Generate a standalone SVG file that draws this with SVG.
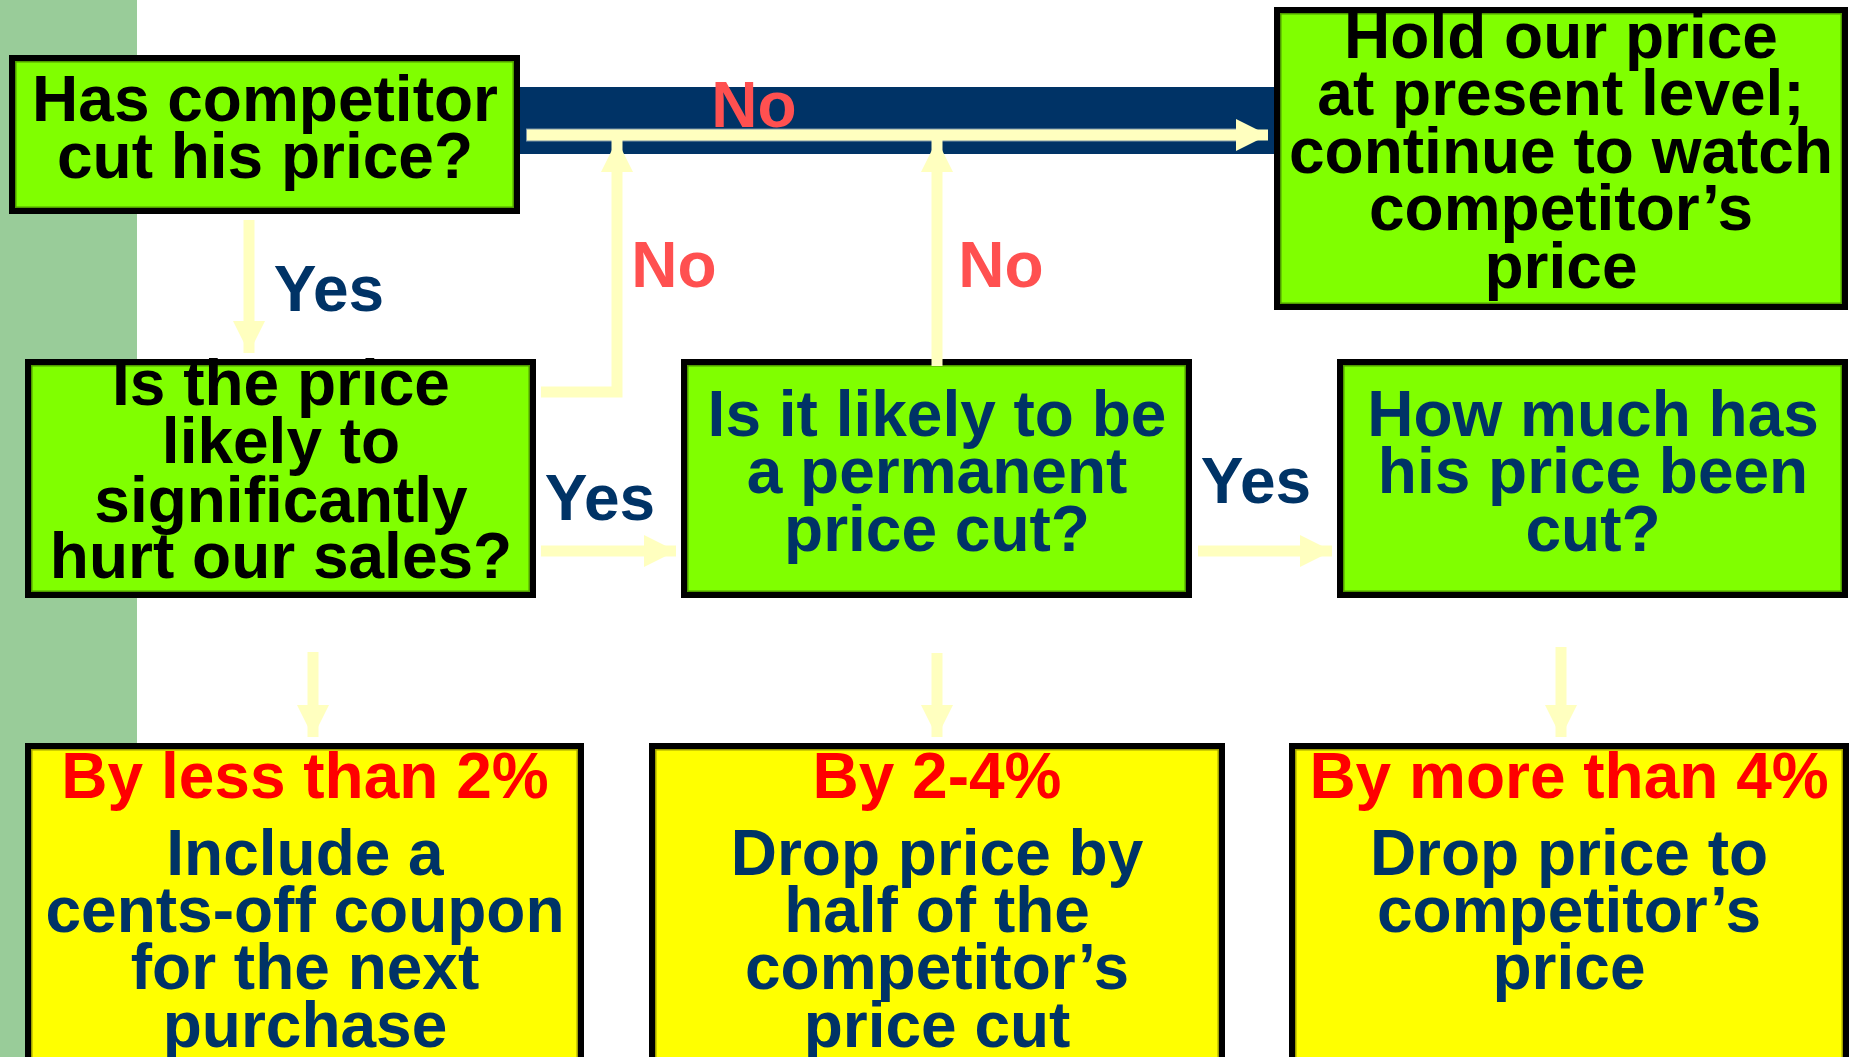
<svg xmlns="http://www.w3.org/2000/svg" width="1850" height="1057" viewBox="0 0 1850 1057">
<style>
  .box { stroke: #000000; stroke-width: 6; }
  .green { fill: #80FF00; }
  .yellow { fill: #FFFF00; }
  .inG { fill: none; stroke: #4F9A00; stroke-width: 1.5; }
  .inY { fill: none; stroke: #A0A000; stroke-width: 1.5; }
  text { font-family: "Liberation Sans", Arial, sans-serif; font-weight: bold; font-size: 64px; text-anchor: middle; }
  .blk { fill: #000000; }
  .navy { fill: #003366; }
  .red { fill: #FF0000; }
  .no { fill: #FF5050; }
  .conn { fill: none; stroke: #FFFFBF; stroke-width: 11; stroke-linejoin: miter; }
  .edge { fill: none; stroke: #7F97A8; stroke-width: 13; }
</style>
<defs>
  <marker id="ah" markerUnits="userSpaceOnUse" markerWidth="32" markerHeight="32" viewBox="0 0 32 32" refX="32" refY="16" orient="auto">
    <path d="M0,0 L32,16 L0,32 z" fill="#FFFFBF"/>
  </marker>
</defs>
<rect x="0" y="0" width="1850" height="1057" fill="#FFFFFF"/>
<rect id="band" x="0" y="0" width="137" height="1057" fill="#99CC99"/>
<rect id="bar" x="520" y="87" width="756" height="67" fill="#003366"/>

<g id="n1">
  <rect class="box green" x="12" y="58" width="505" height="153"/>
  <rect class="inG" x="15.75" y="61.75" width="497.5" height="145.5"/>
  <text class="blk" x="265" y="121">Has competitor</text>
  <text class="blk" x="265" y="178">cut his price?</text>
</g>
<g id="hold">
  <rect class="box green" x="1277" y="10" width="568" height="297"/>
  <rect class="inG" x="1280.75" y="13.75" width="560.5" height="289.5"/>
  <text class="blk" x="1561" y="58">Hold our price</text>
  <text class="blk" x="1561" y="115">at present level;</text>
  <text class="blk" x="1561" y="173">continue to watch</text>
  <text class="blk" x="1561" y="230">competitor’s</text>
  <text class="blk" x="1561" y="288">price</text>
</g>
<g id="n2">
  <rect class="box green" x="28" y="362" width="505" height="233"/>
  <rect class="inG" x="31.75" y="365.75" width="497.5" height="225.5"/>
  <text class="blk" x="281" y="405">Is the price</text>
  <text class="blk" x="281" y="463">likely to</text>
  <text class="blk" x="281" y="522">significantly</text>
  <text class="blk" x="281" y="578">hurt our sales?</text>
</g>
<g id="n3">
  <rect class="box green" x="684" y="362" width="505" height="233"/>
  <rect class="inG" x="687.75" y="365.75" width="497.5" height="225.5"/>
  <text class="navy" x="937" y="436">Is it likely to be</text>
  <text class="navy" x="937" y="493">a permanent</text>
  <text class="navy" x="937" y="551">price cut?</text>
</g>
<g id="n4">
  <rect class="box green" x="1340" y="362" width="505" height="233"/>
  <rect class="inG" x="1343.75" y="365.75" width="497.5" height="225.5"/>
  <text class="navy" x="1593" y="436">How much has</text>
  <text class="navy" x="1593" y="493">his price been</text>
  <text class="navy" x="1593" y="551">cut?</text>
</g>
<g id="n5">
  <rect class="box yellow" x="28" y="746" width="553" height="400"/>
  <rect class="inY" x="31.75" y="749.75" width="545.5" height="392.5"/>
  <text class="red" x="305" y="798">By less than 2%</text>
  <text class="navy" x="305" y="875">Include a</text>
  <text class="navy" x="305" y="932">cents-off coupon</text>
  <text class="navy" x="305" y="989">for the next</text>
  <text class="navy" x="305" y="1047">purchase</text>
</g>
<g id="n6">
  <rect class="box yellow" x="652" y="746" width="570" height="400"/>
  <rect class="inY" x="655.75" y="749.75" width="562.5" height="392.5"/>
  <text class="red" x="937" y="798">By 2-4%</text>
  <text class="navy" x="937" y="875">Drop price by</text>
  <text class="navy" x="937" y="932">half of the</text>
  <text class="navy" x="937" y="989">competitor’s</text>
  <text class="navy" x="937" y="1047">price cut</text>
</g>
<g id="n7">
  <rect class="box yellow" x="1292" y="746" width="554" height="400"/>
  <rect class="inY" x="1295.75" y="749.75" width="546.5" height="392.5"/>
  <text class="red" x="1569" y="798">By more than 4%</text>
  <text class="navy" x="1569" y="875">Drop price to</text>
  <text class="navy" x="1569" y="932">competitor’s</text>
  <text class="navy" x="1569" y="989">price</text>
</g>

<g id="connectors">
  <path class="edge" d="M526,135 H1238"/>
  <path class="conn" d="M527,135 H1268" marker-end="url(#ah)"/>
  <path class="conn" d="M541,392 H617 V140" marker-end="url(#ah)"/>
  <path class="conn" d="M937,366 V140" marker-end="url(#ah)"/>
  <path class="conn" d="M249,220 V353" marker-end="url(#ah)"/>
  <path class="conn" d="M541,551 H676" marker-end="url(#ah)"/>
  <path class="conn" d="M1198,551 H1332" marker-end="url(#ah)"/>
  <path class="conn" d="M313,652 V737" marker-end="url(#ah)"/>
  <path class="conn" d="M937,653 V737" marker-end="url(#ah)"/>
  <path class="conn" d="M1561,647 V737" marker-end="url(#ah)"/>
  <text class="no" x="754" y="127">No</text>
  <text class="no" x="674" y="287">No</text>
  <text class="no" x="1001" y="287">No</text>
  <text class="navy" x="329" y="311">Yes</text>
  <text class="navy" x="600" y="520">Yes</text>
  <text class="navy" x="1256" y="503">Yes</text>
</g>
</svg>
